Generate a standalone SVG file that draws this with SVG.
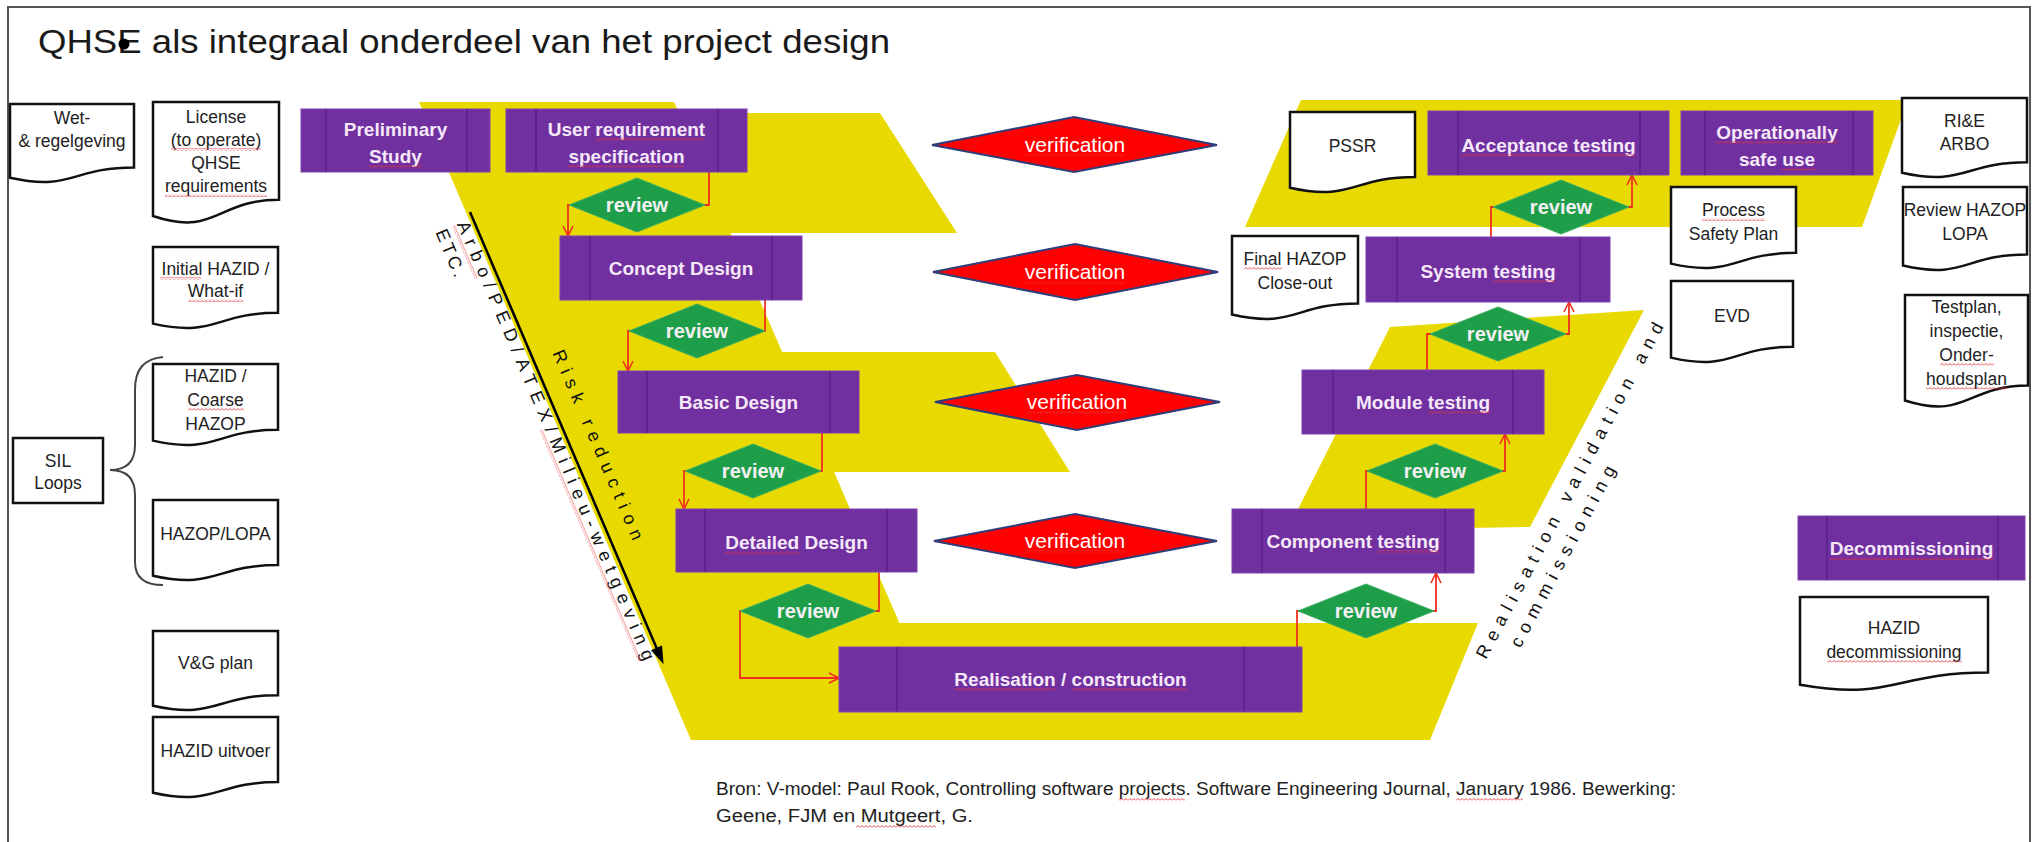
<svg xmlns="http://www.w3.org/2000/svg" width="2034" height="842" viewBox="0 0 2034 842">
<defs>
<pattern id="sq" width="4" height="3" patternUnits="userSpaceOnUse"><path d="M0,2.5 L2,0.5 L4,2.5" fill="none" stroke="#E8333A" stroke-width="0.9"/></pattern>
<marker id="ah" viewBox="0 0 12 12" refX="11" refY="6" markerWidth="12" markerHeight="12" orient="auto" markerUnits="userSpaceOnUse"><path d="M1,1 L11,6 L1,11" fill="none" stroke="#F0301E" stroke-width="1.6"/></marker>
<style>
.y{fill:#E8DA00}
.proc{fill:#7030A0;stroke:#7E40B2;stroke-width:1}
.inner{stroke:#5A2288;stroke-width:1.5}
.pl{font-family:"Liberation Sans",Arial,sans-serif;font-weight:bold;font-size:19px;fill:#F6E8F8;text-anchor:middle}
.rev{fill:#1F9E4A;stroke:#3DB060;stroke-width:1}
.rl{font-family:"Liberation Sans",Arial,sans-serif;font-weight:bold;font-size:20px;fill:#F4F0F4;text-anchor:middle}
.ver{fill:#FF0000;stroke:#2F3D78;stroke-width:2}
.vl{font-family:"Liberation Sans",Arial,sans-serif;font-size:21px;fill:#FFFFFF;text-anchor:middle}
.doc{fill:#FFFFFF;stroke:#111111;stroke-width:2.5}
.dl{font-family:"Liberation Sans",Arial,sans-serif;font-size:17.5px;fill:#222222;text-anchor:middle}
.con{fill:none;stroke:#F0301E;stroke-width:1.8}
.sq{fill:url(#sq)}
.rot{font-family:"Liberation Sans",Arial,sans-serif;font-size:18px;fill:#111111}
.cr{font-family:"Liberation Sans",Arial,sans-serif;font-size:18px;fill:#222222}
</style>
</defs>
<rect x="0" y="0" width="2034" height="842" fill="#FFFFFF"/>
<rect x="8" y="7" width="2022" height="845" fill="none" stroke="#555555" stroke-width="2"/>

<g id="background-bands">
<polygon class="y" points="419,102 674,102 950,740 691,740"/>
<polygon class="y" points="650,113 880,113 957,233 727,233"/>
<polygon class="y" points="755,352 995,352 1070,472 828,472"/>
<polygon class="y" points="880,623 1478,623 1430,740 691,740"/>
<polygon class="y" points="1301,100 1908,100 1862,227 1245,227"/>
<polygon class="y" points="1390,327 1644,310 1530,527 1287,531"/>
</g>

<g id="title">
<text x="38" y="53" font-family="Liberation Sans, Arial, sans-serif" font-size="34" fill="#1A1A1A" textLength="852" lengthAdjust="spacingAndGlyphs">QHSE als integraal onderdeel van het project design</text>
<circle cx="124" cy="44" r="5.5" fill="#000000"/>
</g>

<g id="connectors">
<path class="con" d="M709,172 V205 H568 V236" marker-end="url(#ah)"/>
<path class="con" d="M765,300 V331 H628 V371" marker-end="url(#ah)"/>
<path class="con" d="M822,433 V471 H684 V509" marker-end="url(#ah)"/>
<path class="con" d="M879,572 V611 H740 V678 H839" marker-end="url(#ah)"/>
<path class="con" d="M1297,647 V611 H1436 V573" marker-end="url(#ah)"/>
<path class="con" d="M1366,509 V471 H1505 V434" marker-end="url(#ah)"/>
<path class="con" d="M1427,370 V334 H1569 V302" marker-end="url(#ah)"/>
<path class="con" d="M1491,237 V207 H1632 V175" marker-end="url(#ah)"/>
</g>

<!-- left documents -->
<g id="wet-regelgeving"><path class="doc" d="M10,104 H134 V167.4 C72,167.4 72,191.5 10,177.8 Z"/><text class="dl" x="72" y="124">Wet-</text><text class="dl" x="72" y="147">&amp; regelgeving</text></g>
<g id="license"><path class="doc" d="M153,102 H279 V199.8 C216,199.8 216,237.1 153,216 Z"/><text class="dl" x="216" y="123">License</text><text class="dl" x="216" y="146">(to operate)</text><text class="dl" x="216" y="169">QHSE</text><text class="dl" x="216" y="192">requirements</text><rect class="sq" x="171" y="148" width="90" height="3"/><rect class="sq" x="165" y="194" width="102" height="3"/></g>
<g id="initial-hazid"><path class="doc" d="M153,247 H278 V312.8 C215.5,312.8 215.5,337.8 153,323.6 Z"/><text class="dl" x="215.5" y="275">Initial HAZID /</text><text class="dl" x="215.5" y="297">What-if</text><rect class="sq" x="160" y="277" width="41" height="3"/><rect class="sq" x="188" y="299" width="55" height="3"/></g>
<g id="hazid-coarse-hazop"><path class="doc" d="M153,364 H278 V429.8 C215.5,429.8 215.5,454.8 153,440.6 Z"/><text class="dl" x="215.5" y="382">HAZID /</text><text class="dl" x="215.5" y="406">Coarse</text><text class="dl" x="215.5" y="430">HAZOP</text><rect class="sq" x="188" y="408" width="56" height="3"/></g>
<g id="hazop-lopa"><path class="doc" d="M153,500 H278 V565 C215.5,565 215.5,589.7 153,575.7 Z"/><text class="dl" x="215.5" y="540">HAZOP/LOPA</text></g>
<g id="sil-loops"><rect x="13" y="438" width="90" height="65" fill="#FFFFFF" stroke="#111111" stroke-width="2.5"/><text class="dl" x="58" y="467">SIL</text><text class="dl" x="58" y="489">Loops</text><path d="M163,357 C143,359 135,370 135,390 L135,445 C135,462 126,470 110,470 C126,470 135,478 135,495 L135,562 C135,578 145,585 163,585" fill="none" stroke="#444444" stroke-width="2"/></g>
<g id="vg-plan"><path class="doc" d="M153,631 H278 V695.2 C215.5,695.2 215.5,719.6 153,705.7 Z"/><text class="dl" x="215.5" y="669">V&amp;G plan</text></g>
<g id="hazid-uitvoer"><path class="doc" d="M153,717 H278 V782 C215.5,782 215.5,806.7 153,792.7 Z"/><text class="dl" x="215.5" y="757">HAZID uitvoer</text></g>

<!-- left arm process boxes -->
<g id="preliminary-study"><rect class="proc" x="301" y="109" width="189" height="63"/><line class="inner" x1="326" y1="109" x2="326" y2="172"/><line class="inner" x1="467" y1="109" x2="467" y2="172"/><text class="pl" x="395.5" y="136">Preliminary</text><text class="pl" x="395.5" y="163">Study</text><rect class="sq" x="369" y="165" width="53" height="3"/></g>
<g id="user-requirement"><rect class="proc" x="506" y="109" width="241" height="63"/><line class="inner" x1="536" y1="109" x2="536" y2="172"/><line class="inner" x1="718" y1="109" x2="718" y2="172"/><text class="pl" x="626.5" y="136">User requirement</text><text class="pl" x="626.5" y="163">specification</text><rect class="sq" x="595" y="138" width="110" height="3"/><rect class="sq" x="568" y="165" width="116" height="3"/></g>
<g id="concept-design"><rect class="proc" x="560" y="236" width="242" height="64"/><line class="inner" x1="590" y1="236" x2="590" y2="300"/><line class="inner" x1="772" y1="236" x2="772" y2="300"/><text class="pl" x="681" y="275">Concept Design</text></g>
<g id="basic-design"><rect class="proc" x="618" y="371" width="241" height="62"/><line class="inner" x1="647" y1="371" x2="647" y2="433"/><line class="inner" x1="830" y1="371" x2="830" y2="433"/><text class="pl" x="738.5" y="409">Basic Design</text></g>
<g id="detailed-design"><rect class="proc" x="676" y="509" width="241" height="63"/><line class="inner" x1="705" y1="509" x2="705" y2="572"/><line class="inner" x1="887" y1="509" x2="887" y2="572"/><text class="pl" x="796.5" y="549">Detailed Design</text><rect class="sq" x="725" y="551" width="74" height="3"/></g>
<g id="realisation"><rect class="proc" x="839" y="647" width="463" height="65"/><line class="inner" x1="897" y1="647" x2="897" y2="712"/><line class="inner" x1="1244" y1="647" x2="1244" y2="712"/><text class="pl" x="1070.5" y="686">Realisation / construction</text><rect class="sq" x="954" y="688" width="101" height="3"/><rect class="sq" x="1072" y="688" width="115" height="3"/></g>

<!-- right arm process boxes -->
<g id="component-testing"><rect class="proc" x="1232" y="509" width="242" height="64"/><line class="inner" x1="1262" y1="509" x2="1262" y2="573"/><line class="inner" x1="1445" y1="509" x2="1445" y2="573"/><text class="pl" x="1353" y="548">Component testing</text><rect class="sq" x="1377" y="550" width="62" height="3"/></g>
<g id="module-testing"><rect class="proc" x="1302" y="370" width="242" height="64"/><line class="inner" x1="1333" y1="370" x2="1333" y2="434"/><line class="inner" x1="1513" y1="370" x2="1513" y2="434"/><text class="pl" x="1423" y="409">Module testing</text><rect class="sq" x="1428" y="411" width="62" height="3"/></g>
<g id="system-testing"><rect class="proc" x="1366" y="237" width="244" height="65"/><line class="inner" x1="1397" y1="237" x2="1397" y2="302"/><line class="inner" x1="1580" y1="237" x2="1580" y2="302"/><text class="pl" x="1488" y="278">System testing</text><rect class="sq" x="1493" y="280" width="62" height="3"/></g>
<g id="acceptance-testing"><rect class="proc" x="1428" y="111" width="241" height="64"/><line class="inner" x1="1458" y1="111" x2="1458" y2="175"/><line class="inner" x1="1640" y1="111" x2="1640" y2="175"/><text class="pl" x="1548.5" y="152">Acceptance testing</text><rect class="sq" x="1461" y="154" width="174" height="3"/></g>
<g id="operationally-safe-use"><rect class="proc" x="1681" y="111" width="192" height="64"/><line class="inner" x1="1705" y1="111" x2="1705" y2="175"/><line class="inner" x1="1853" y1="111" x2="1853" y2="175"/><text class="pl" x="1777" y="139">Operationally</text><text class="pl" x="1777" y="166">safe use</text><rect class="sq" x="1716" y="141" width="122" height="3"/><rect class="sq" x="1782" y="168" width="33" height="3"/></g>
<g id="decommissioning"><rect class="proc" x="1798" y="516" width="227" height="64"/><line class="inner" x1="1827" y1="516" x2="1827" y2="580"/><line class="inner" x1="1998" y1="516" x2="1998" y2="580"/><text class="pl" x="1911.5" y="555">Decommissioning</text><rect class="sq" x="1830" y="557" width="164" height="3"/></g>

<!-- review diamonds -->
<g id="review-1"><polygon class="rev" points="569,205 637,178 705,205 637,232"/><text class="rl" x="637" y="212">review</text></g>
<g id="review-2"><polygon class="rev" points="629,331 697,304 765,331 697,358"/><text class="rl" x="697" y="338">review</text></g>
<g id="review-3"><polygon class="rev" points="685,471 753,444 821,471 753,498"/><text class="rl" x="753" y="478">review</text></g>
<g id="review-4"><polygon class="rev" points="740,611 808,584 876,611 808,638"/><text class="rl" x="808" y="618">review</text></g>
<g id="review-5"><polygon class="rev" points="1298,611 1366,584 1434,611 1366,638"/><text class="rl" x="1366" y="618">review</text></g>
<g id="review-6"><polygon class="rev" points="1367,471 1435,444 1503,471 1435,498"/><text class="rl" x="1435" y="478">review</text></g>
<g id="review-7"><polygon class="rev" points="1430,334 1498,307 1566,334 1498,361"/><text class="rl" x="1498" y="341">review</text></g>
<g id="review-8"><polygon class="rev" points="1493,207 1561,180 1629,207 1561,234"/><text class="rl" x="1561" y="214">review</text></g>

<!-- verification diamonds -->
<g id="verification-1"><polygon class="ver" points="932,145 1074,117 1217,145 1074,172"/><text class="vl" x="1075" y="152">verification</text><rect class="sq" x="1025" y="154" width="100" height="3"/></g>
<g id="verification-2"><polygon class="ver" points="933,272 1075,244 1218,272 1075,300"/><text class="vl" x="1075" y="279">verification</text><rect class="sq" x="1025" y="281" width="100" height="3"/></g>
<g id="verification-3"><polygon class="ver" points="935,402 1077,375 1220,402 1077,430"/><text class="vl" x="1077" y="409">verification</text><rect class="sq" x="1027" y="411" width="100" height="3"/></g>
<g id="verification-4"><polygon class="ver" points="934,541 1075,514 1217,541 1075,568"/><text class="vl" x="1075" y="548">verification</text><rect class="sq" x="1025" y="550" width="100" height="3"/></g>

<!-- right documents -->
<g id="pssr"><path class="doc" d="M1290,112 H1415 V177 C1352.5,177 1352.5,201.7 1290,187.7 Z"/><text class="dl" x="1352.5" y="152">PSSR</text></g>
<g id="final-hazop"><path class="doc" d="M1232,236 H1358 V303.4 C1295,303.4 1295,329 1232,314.5 Z"/><text class="dl" x="1295" y="265">Final HAZOP</text><text class="dl" x="1295" y="289">Close-out</text><rect class="sq" x="1244" y="267" width="38" height="3"/></g>
<g id="process-safety-plan"><path class="doc" d="M1671,187 H1796 V252.8 C1733.5,252.8 1733.5,277.8 1671,263.6 Z"/><text class="dl" x="1733.5" y="216">Process</text><text class="dl" x="1733.5" y="240">Safety Plan</text><rect class="sq" x="1702" y="218" width="63" height="3"/></g>
<g id="evd"><path class="doc" d="M1671,281 H1793 V346.8 C1732,346.8 1732,371.8 1671,357.6 Z"/><text class="dl" x="1732" y="322">EVD</text></g>
<g id="rie-arbo"><path class="doc" d="M1902,98 H2027 V162.2 C1964.5,162.2 1964.5,186.6 1902,172.7 Z"/><text class="dl" x="1964.5" y="127">RI&amp;E</text><text class="dl" x="1964.5" y="150">ARBO</text></g>
<g id="review-hazop-lopa"><path class="doc" d="M1903,187 H2027 V254.4 C1965,254.4 1965,280 1903,265.5 Z"/><text class="dl" x="1965" y="216">Review HAZOP</text><text class="dl" x="1965" y="240">LOPA</text></g>
<g id="testplan"><path class="doc" d="M1905,295 H2028 V385.6 C1966.5,385.6 1966.5,420.1 1905,400.5 Z"/><text class="dl" x="1966.5" y="313">Testplan,</text><text class="dl" x="1966.5" y="337">inspectie,</text><text class="dl" x="1966.5" y="361">Onder-</text><text class="dl" x="1966.5" y="385">houdsplan</text><rect class="sq" x="1940" y="363" width="54" height="3"/><rect class="sq" x="1926" y="387" width="81" height="3"/></g>
<g id="hazid-decommissioning"><path class="doc" d="M1800,597 H1988 V672.4 C1894,672.4 1894,701.1 1800,684.8 Z"/><text class="dl" x="1894" y="634">HAZID</text><text class="dl" x="1894" y="658">decommissioning</text><rect class="sq" x="1827" y="660" width="135" height="3"/></g>

<!-- rotated annotations -->
<g id="risk-reduction" transform="translate(470,212) rotate(66.83)">
<line x1="0" y1="0" x2="478" y2="0" stroke="#000000" stroke-width="2.5"/>
<polygon points="492,0 474,-6 474,6" fill="#000000"/>
<text class="rot" x="6" y="17" textLength="476" lengthAdjust="spacing">Arbo/PED/ATEX/Milieu-wetgeving</text>
<text class="rot" x="5" y="40" textLength="50" lengthAdjust="spacing">ETC.</text>
<text class="rot" x="162" y="-20" textLength="205" lengthAdjust="spacing">Risk reduction</text>
<rect class="sq" x="6" y="19" width="58" height="3"/>
<rect class="sq" x="228" y="19" width="252" height="3"/>
</g>
<g id="realisation-validation" transform="translate(1486,660) rotate(-61.9)">
<text class="rot" x="0" y="0" textLength="378" lengthAdjust="spacing">Realisation validation and</text>
<text class="rot" x="26" y="25" textLength="203" lengthAdjust="spacing">commissioning</text>
</g>

<g id="credits">
<text class="cr" x="716" y="795" textLength="960" lengthAdjust="spacingAndGlyphs">Bron: V-model: Paul Rook, Controlling software projects. Software Engineering Journal, January 1986. Bewerking:</text>
<text class="cr" x="716" y="822" textLength="257" lengthAdjust="spacingAndGlyphs">Geene, FJM en Mutgeert, G.</text>
<rect class="sq" x="1119" y="798" width="66" height="3"/>
<rect class="sq" x="1456" y="798" width="67" height="3"/>
<rect class="sq" x="856" y="825" width="80" height="3"/>
</g>
</svg>
